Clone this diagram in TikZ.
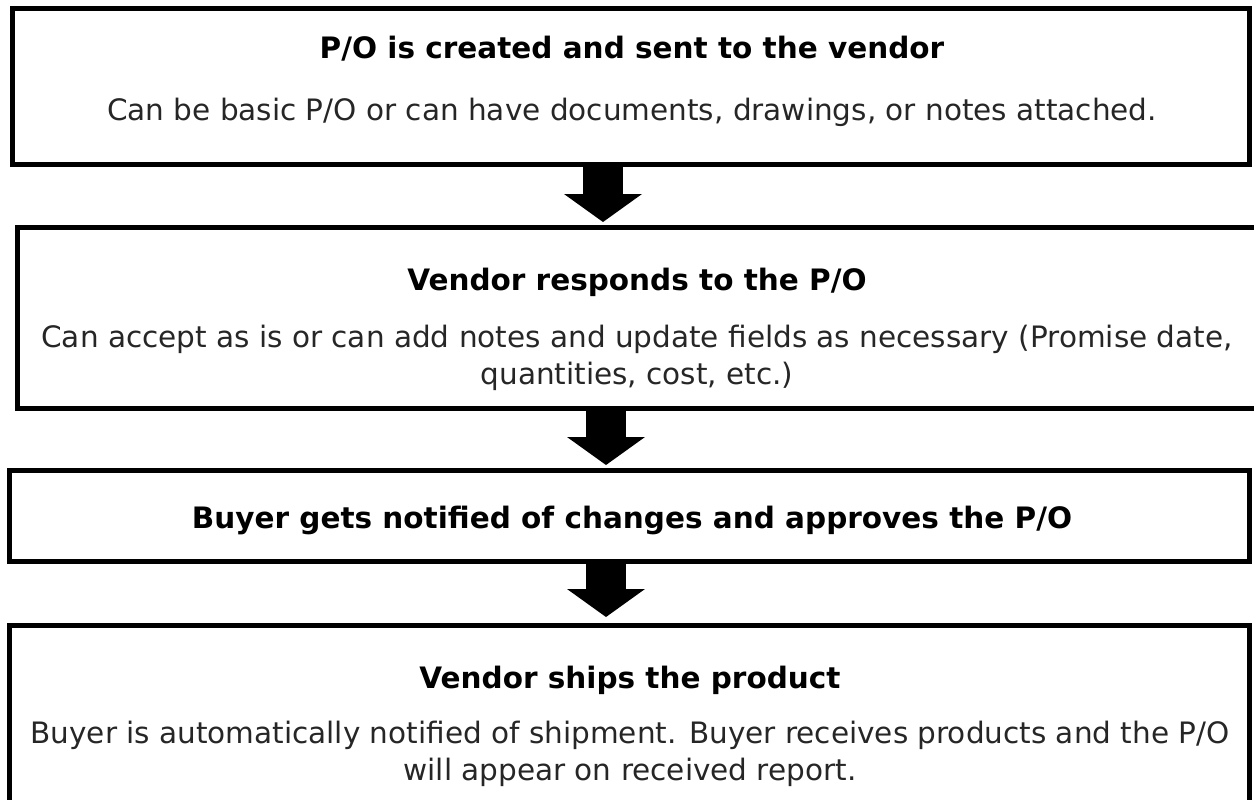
\documentclass[tikz,border=0pt]{standalone}
\usepackage{fontspec}
\setmainfont{DejaVu Sans}
\usetikzlibrary{arrows.meta, positioning}

\tikzset{
  stepbox/.style={draw, rectangle, line width=5pt, inner sep=0pt},
  headtext/.style={font=\fontsize{29.5}{37}\selectfont\bfseries, inner sep=0pt, anchor=base},
  bodytext/.style={font=\fontsize{29.5}{37}\selectfont, text=black!85, align=center, inner sep=0pt, anchor=base},
  flow/.style={line width=40pt, -{Triangle[width=78pt, length=28pt, line width=0pt]}}
}

\begin{document}
\begin{tikzpicture}[x=1pt, y=-1pt]
        \useasboundingbox (0,0) rectangle (1254,800);

        % boxes
        \node[stepbox, minimum width=1237pt, minimum height=155.5pt] (1) at (630.5,86.25) {};
        \node[stepbox, minimum width=1244.5pt, minimum height=181pt] (2) at (639.75,318) {};
        \node[stepbox, minimum width=1240pt, minimum height=91pt] (3) at (629.5,516) {};
        \node[stepbox, minimum width=1240pt, minimum height=186.5pt] (4) at (629.5,718.75) {};

        % texts (base of a two-line text is its last line)
        \node[headtext] (1h) at (632,59) {P/O is created and sent to the vendor};
        \node[bodytext] (1b) at (632,121) {Can be basic P/O or can have documents, drawings, or notes attached.};
        \node[headtext] (2h) at (637,290) {Vendor responds to the P/O};
        \node[bodytext] (2b) at (637,384) {Can accept as is or can add notes and update fields as necessary (Promise date,\\ quantities, cost, etc.)};
        \node[headtext] (3h) at (632,528) {Buyer gets notified of changes and approves the P/O};
        \node[headtext] (4h) at (630,688) {Vendor ships the product};
        \node[bodytext] (4b) at (630,780) {Buyer is automatically notified of shipment. Buyer receives products and the P/O\\ will appear on received report.};

        % arrows
        \coordinate (a1) at (603,0);
        \coordinate (a2) at (606,0);
        \draw[flow, shorten >=3pt] (1.south -| a1) -- (2.north -| a1);
        \draw[flow, shorten >=3pt] (2.south -| a2) -- (3.north -| a2);
        \draw[flow, shorten >=6pt] (3.south -| a2) -- (4.north -| a2);
\end{tikzpicture}
\end{document}
